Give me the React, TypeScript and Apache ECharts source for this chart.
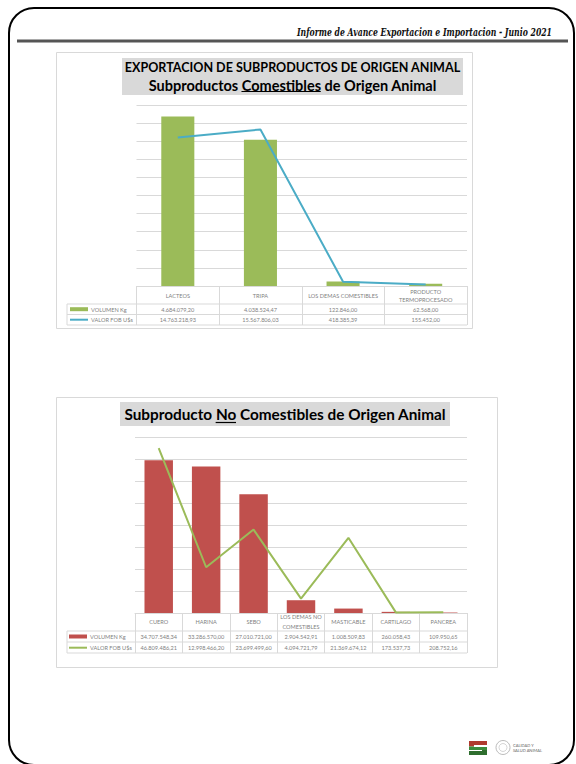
import React, { useEffect, useRef } from "react";
import * as echarts from "echarts";

// ---------- DATA ----------
const comCategories = ["LACTEOS", "TRIPA", "LOS DEMAS COMESTIBLES", "PRODUCTO\nTERMOPROCESADO"];
const comVolumen = [4684079.2, 4038524.47, 122846.0, 62568.0];
const comValorFob = [14763218.93, 15567806.03, 418385.39, 155452.0];

const noComCategories = [
  "CUERO",
  "HARINA",
  "SEBO",
  "LOS DEMAS NO\nCOMESTIBLES",
  "MASTICABLE",
  "CARTILAGO",
  "PANCREA",
];
const noComVolumen = [34707548.34, 33286570.0, 27010721.0, 2904542.91, 1008509.83, 260058.43, 109950.65];
const noComValorFob = [46809486.21, 12998466.2, 23699499.6, 4094721.79, 21369674.12, 173537.73, 208752.16];

const seriesNames = ["VOLUMEN Kg", "VALOR FOB U$s"];
const headerText = "Informe de Avance Exportacion e Importacion - Junio 2021";
const title1a = "EXPORTACION DE SUBPRODUCTOS DE ORIGEN ANIMAL";
const title1b = ["Subproductos ", "Comestibles", " de Origen Animal"];
const title2 = ["Subproducto ", "No", " Comestibles de Origen Animal"];

// ---------- helpers ----------
const FONT = "Lato, 'Noto Sans', sans-serif";
const GRID_C = "#D9D9D9";
const TXT_C = "#7F7F7F";
const TFS = 5.6;

function fmt(v: number): string {
  const [i, d] = v.toFixed(2).split(".");
  return i.replace(/\B(?=(\d{3})+(?!\d))/g, ".") + "," + d;
}

let ctx: CanvasRenderingContext2D | null = null;
function measure(text: string, size: number, weight = "normal", style = "normal", family = FONT): number {
  if (!ctx) ctx = document.createElement("canvas").getContext("2d");
  if (!ctx) return text.length * size * 0.5;
  ctx.font = `${style} ${weight} ${size}px ${family}`;
  return ctx.measureText(text).width;
}
function fitSize(text: string, target: number, weight = "bold"): number {
  return (12 * target) / measure(text, 12, weight);
}

export default function App() {
  const ref = useRef<HTMLDivElement>(null);

  useEffect(() => {
    if (!ref.current) return;
    const chart = echarts.init(ref.current, undefined, { renderer: "svg" });

    // layout
    const g1 = { left: 136.5, top: 105, width: 330.5, height: 181 };
    const g2 = { left: 135, top: 437, width: 332, height: 176 };
    const t1Bottom = g1.top + g1.height;
    const t2Bottom = g2.top + g2.height;

    // titles
    const s1a = fitSize(title1a, 336);
    const s1b = fitSize(title1b.join(""), 288);
    const s2 = fitSize(title2.join(""), 322);
    const w1b = measure(title1b.join(""), s1b, "bold");
    const x1b = 292.5 - w1b / 2;
    const u1x1 = x1b + measure(title1b[0], s1b, "bold");
    const u1x2 = u1x1 + measure(title1b[1], s1b, "bold");
    const w2 = measure(title2.join(""), s2, "bold");
    const x2 = 285 - w2 / 2;
    const u2x1 = x2 + measure(title2[0], s2, "bold");
    const u2x2 = u2x1 + measure(title2[1], s2, "bold");

    const headFamily = "'DejaVu Serif', serif";
    const headW = measure(headerText, 11, "bold", "italic", headFamily);
    const headScale = 255 / headW;

    const tableText = { color: TXT_C, fontSize: TFS, fontFamily: FONT };

    const xCat = (gridIndex: number, data: string[], margin: number, lh: number, tickLen: number, main: boolean) => ({
      type: "category",
      gridIndex,
      data,
      position: "bottom",
      boundaryGap: true,
      axisLine: { show: main, lineStyle: { color: GRID_C, width: 1 } },
      axisTick: { show: main, interval: 0, length: tickLen, lineStyle: { color: GRID_C, width: 1 } },
      axisLabel: {
        interval: 0,
        margin,
        verticalAlign: "middle",
        lineHeight: lh,
        ...tableText,
      },
      splitLine: { show: false },
    });

    const yVal = (gridIndex: number, max: number, interval: number, show: boolean) => ({
      type: "value",
      gridIndex,
      min: 0,
      max,
      interval,
      show,
      axisLine: { show: false },
      axisTick: { show: false },
      axisLabel: { show: false },
      splitLine: { show: show, lineStyle: { color: GRID_C, width: 1 } },
    });

    const legendCell = (y1: number, y2: number, barColor: string, lineColor: string, x0: number) => [
      { type: "rect", shape: { x: x0 + 3, y: y1 - 2, width: 18, height: 4 }, style: { fill: barColor } },
      {
        type: "text",
        x: x0 + 24,
        y: y1,
        style: { text: seriesNames[0], fill: TXT_C, fontSize: TFS, fontFamily: FONT, verticalAlign: "middle" },
      },
      { type: "line", shape: { x1: x0 + 3, y1: y2, x2: x0 + 21, y2: y2 }, style: { stroke: lineColor, lineWidth: 2 } },
      {
        type: "text",
        x: x0 + 24,
        y: y2,
        style: { text: seriesNames[1], fill: TXT_C, fontSize: TFS, fontFamily: FONT, verticalAlign: "middle" },
      },
    ];

    const tableLines = (x0: number, x1: number, ys: number[]) => [
      ...ys.map((y) => ({
        type: "line",
        shape: { x1: x0, y1: y, x2: x1, y2: y },
        style: { stroke: GRID_C, lineWidth: 1 },
      })),
      {
        type: "line",
        shape: { x1: x0, y1: ys[0], x2: x0, y2: ys[ys.length - 1] },
        style: { stroke: GRID_C, lineWidth: 1 },
      },
    ];

    const option: any = {
      animation: false,
      backgroundColor: "#ffffff",
      grid: [
        { ...g1, containLabel: false },
        { ...g2, containLabel: false },
      ],
      xAxis: [
        xCat(0, comCategories, 9.5, 8.3, 39, true),
        xCat(0, comVolumen.map(fmt), 23.2, 8, 0, false),
        xCat(0, comValorFob.map(fmt), 33.7, 8, 0, false),
        xCat(1, noComCategories, 8.5, 9.5, 40, true),
        xCat(1, noComVolumen.map(fmt), 23.5, 8, 0, false),
        xCat(1, noComValorFob.map(fmt), 34.7, 8, 0, false),
      ],
      yAxis: [
        yVal(0, 5000000, 500000, true),
        yVal(0, 18000000, 1800000, false),
        yVal(1, 40000000, 5000000, true),
        yVal(1, 50000000, 6250000, false),
      ],
      series: [
        {
          name: seriesNames[0],
          type: "bar",
          xAxisIndex: 0,
          yAxisIndex: 0,
          data: comVolumen,
          barWidth: "40%",
          itemStyle: { color: "#9BBB59" },
        },
        {
          name: seriesNames[1],
          type: "line",
          xAxisIndex: 0,
          yAxisIndex: 1,
          data: comValorFob,
          symbol: "none",
          lineStyle: { color: "#4BACC6", width: 2 },
          itemStyle: { color: "#4BACC6" },
        },
        {
          name: seriesNames[0],
          type: "bar",
          xAxisIndex: 3,
          yAxisIndex: 2,
          data: noComVolumen,
          barWidth: "60%",
          itemStyle: { color: "#C0504D" },
        },
        {
          name: seriesNames[1],
          type: "line",
          xAxisIndex: 3,
          yAxisIndex: 3,
          data: noComValorFob,
          symbol: "none",
          lineStyle: { color: "#9BBB59", width: 2 },
          itemStyle: { color: "#9BBB59" },
        },
      ],
      graphic: [
        // page frame
        {
          type: "rect",
          shape: { x: 9, y: 8, width: 565, height: 757, r: 25 },
          style: { fill: "none", stroke: "#000", lineWidth: 2 },
        },
        { type: "line", shape: { x1: 17, y1: 41, x2: 568, y2: 41 }, style: { stroke: "#555", lineWidth: 3 } },
        {
          type: "text",
          x: 552,
          y: 31.5,
          scaleX: headScale,
          style: {
            text: headerText,
            fill: "#111",
            fontSize: 11,
            fontWeight: "bold",
            fontStyle: "italic",
            fontFamily: headFamily,
            align: "right",
            verticalAlign: "middle",
          },
        },
        // chart boxes
        {
          type: "rect",
          z: -1,
          shape: { x: 56.5, y: 52.5, width: 416, height: 276 },
          style: { fill: "none", stroke: GRID_C, lineWidth: 1 },
        },
        {
          type: "rect",
          z: -1,
          shape: { x: 56.5, y: 397.5, width: 441, height: 270 },
          style: { fill: "none", stroke: GRID_C, lineWidth: 1 },
        },
        // title 1
        { type: "rect", shape: { x: 122, y: 58, width: 341, height: 37 }, style: { fill: "#D9D9D9" } },
        {
          type: "text",
          x: 292.5,
          y: 67.5,
          style: {
            text: title1a,
            fill: "#000",
            fontSize: s1a,
            fontWeight: "bold",
            fontFamily: FONT,
            align: "center",
            verticalAlign: "middle",
          },
        },
        {
          type: "text",
          x: 292.5,
          y: 85.5,
          style: {
            text: title1b.join(""),
            fill: "#000",
            fontSize: s1b,
            fontWeight: "bold",
            fontFamily: FONT,
            align: "center",
            verticalAlign: "middle",
          },
        },
        { type: "line", shape: { x1: u1x1, y1: 91.5, x2: u1x2, y2: 91.5 }, style: { stroke: "#000", lineWidth: 1.2 } },
        // title 2
        { type: "rect", shape: { x: 120, y: 402, width: 330, height: 24 }, style: { fill: "#D9D9D9" } },
        {
          type: "text",
          x: 285,
          y: 414,
          style: {
            text: title2.join(""),
            fill: "#000",
            fontSize: s2,
            fontWeight: "bold",
            fontFamily: FONT,
            align: "center",
            verticalAlign: "middle",
          },
        },
        { type: "line", shape: { x1: u2x1, y1: 422.5, x2: u2x2, y2: 422.5 }, style: { stroke: "#000", lineWidth: 1.2 } },
        // table 1
        ...tableLines(67, g1.left + g1.width, [t1Bottom + 18, t1Bottom + 28.5, t1Bottom + 39]),
        ...legendCell(t1Bottom + 23.2, t1Bottom + 33.7, "#9BBB59", "#4BACC6", 67),
        // table 2
        ...tableLines(67, g2.left + g2.width, [t2Bottom + 18, t2Bottom + 29, t2Bottom + 40]),
        ...legendCell(t2Bottom + 23.5, t2Bottom + 34.7, "#C0504D", "#9BBB59", 66),
        // logos: stylised S
        {
          type: "polygon",
          shape: { points: [[469, 741], [487, 741], [487, 745], [474, 745], [474, 746.5], [469, 746.5]] },
          style: { fill: "#B03A2E" },
        },
        {
          type: "polygon",
          shape: { points: [[469, 746.5], [474, 746.5], [474, 747], [487, 747], [487, 750], [469, 750]] },
          style: { fill: "#3C8C3C" },
        },
        {
          type: "polygon",
          shape: { points: [[487, 750], [487, 755], [469, 755], [469, 751], [482, 751], [482, 750]] },
          style: { fill: "#2E6E2E" },
        },
        { type: "circle", shape: { cx: 503, cy: 747.5, r: 7 }, style: { fill: "#fff", stroke: "#aaa", lineWidth: 0.8 } },
        { type: "circle", shape: { cx: 503, cy: 747.5, r: 4 }, style: { fill: "none", stroke: "#bbb", lineWidth: 0.6 } },
        {
          type: "text",
          x: 513,
          y: 745.5,
          style: { text: "CALIDAD Y", fontSize: 4, fontFamily: FONT, fill: "#666", verticalAlign: "middle" },
        },
        {
          type: "text",
          x: 513,
          y: 750.5,
          style: { text: "SALUD ANIMAL", fontSize: 4, fontFamily: FONT, fill: "#666", verticalAlign: "middle" },
        },
      ],
    };

    chart.setOption(option);
    return () => chart.dispose();
  }, []);

  return (
    <div
      ref={ref}
      style={{ position: "absolute", left: 0, top: 0, width: 576, height: 764, background: "#fff" }}
    />
  );
}
